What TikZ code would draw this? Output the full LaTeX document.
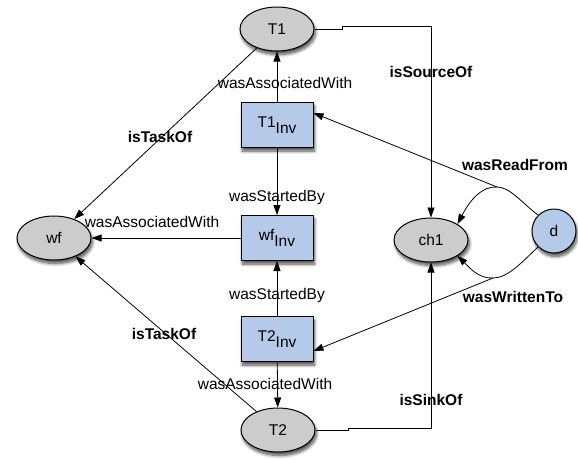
\documentclass[tikz,border=0pt]{standalone}
\usepackage{fontspec}
\setmainfont{Liberation Sans}
\usepackage{tikz}
\usepackage{xcolor}
\usetikzlibrary{positioning, arrows.meta, shapes.geometric, shadows.blur}

\definecolor{procgray}{RGB}{204,204,204}
\definecolor{invblue}{RGB}{181,201,232}
\newcommand{\invof}[1]{#1\raisebox{-0.38em}{Inv}}

\begin{document}
\begin{tikzpicture}[x=1pt,y=1pt,yscale=-1,xscale=1,
                    every node/.style={font=\fontsize{15.5}{18}\selectfont},
                    shad/.style={blur shadow={shadow xshift=1.5pt,shadow yshift=-3.5pt,shadow blur radius=3pt,shadow blur steps=8,shadow opacity=70}},
                    proc/.style={ellipse,draw,line width=1pt,fill=procgray,minimum width=74,minimum height=44,inner sep=0pt,shad},
                    inv/.style={rectangle,draw,line width=1pt,fill=invblue,minimum width=72,minimum height=45,inner sep=0pt,shad},
                    arr/.style={-{Triangle[length=10pt,width=7pt]},line width=0.8pt},
                    lbl/.style={inner sep=0pt},
                    lblb/.style={inner sep=0pt,font=\fontsize{15.5}{18}\selectfont\bfseries}]
\useasboundingbox (0,0) rectangle (578,459);

%Shape: Ellipse
\node (T1) at (277,29) [proc] {T1};
%Shape: Ellipse
\node (T2) at (278,430) [proc] {T2};
%Shape: Ellipse
\node (wf) at (54,238) [proc] {wf};
%Shape: Ellipse
\node (ch1) at (431,240) [proc] {ch1};
%Shape: Circle
\node (d) at (554,231) [circle,draw,line width=1pt,fill=invblue,minimum size=44,inner sep=0pt,shad] {d};
%Shape: Rectangle
\node (T1Inv) at (277,125) [inv] {\invof{T1}};
%Shape: Rectangle
\node (wfInv) at (277,238) [inv] {\invof{wf}};
%Shape: Rectangle
\node (T2Inv) at (277,339) [inv] {\invof{T2}};

%Junctions of the two data links
\coordinate (J1) at (497,187);
\coordinate (J2) at (493,278);

%Straight Lines
\draw [arr] (T1Inv) -- (T1);
\draw [arr] (T1) -- (wf);
\draw [arr] (T1Inv) -- (wfInv);
\draw [arr] (wfInv) -- (wf);
\draw [arr] (T2Inv) -- (wfInv);
\draw [arr] (T2) -- (wf);
\draw [arr] (T2Inv) -- (T2);
%Elbow lines to the channel
\draw [arr] (T1.east) -- ++(28,0) -- ++(0,-3) -| (ch1);
\draw [arr] (T2.east) -- ++(33,0) -- ++(0,-2) -| (ch1);
%Curves from d
\draw [line width=0.8pt] (d.north west) .. controls (522,203) and (510,187) .. (J1);
\draw [arr] (J1) -- ([yshift=-12pt]T1Inv.east);
\draw [arr] (J1) .. controls (482,186) and (470,200) .. (ch1.north east);
\draw [line width=0.8pt] (d.south west) .. controls (522,262) and (508,278) .. (J2);
\draw [arr] (J2) -- ([yshift=12pt]T2Inv.east);
\draw [arr] (J2) .. controls (478,279) and (468,266) .. (ch1.south east);

% Text Node
\node (aw1) at (285,83) [lbl] {wasAssociatedWith};
% Text Node
\node (src) at (431,72) [lblb] {isSourceOf};
% Text Node
\node (tk1) at (160,137) [lblb] {isTaskOf};
% Text Node
\node (rf) at (515,165) [lblb] {wasReadFrom};
% Text Node
\node (sb1) at (277,197) [lbl] {wasStartedBy};
% Text Node
\node (aw2) at (152,222) [lbl] {wasAssociatedWith};
% Text Node
\node (sb2) at (277,295) [lbl] {wasStartedBy};
% Text Node
\node (wt) at (513,297) [lblb] {wasWrittenTo};
% Text Node
\node (tk2) at (164,334) [lblb] {isTaskOf};
% Text Node
\node (aw3) at (265,384) [lbl] {wasAssociatedWith};
% Text Node
\node (snk) at (431,400) [lblb] {isSinkOf};

\end{tikzpicture}
\end{document}
